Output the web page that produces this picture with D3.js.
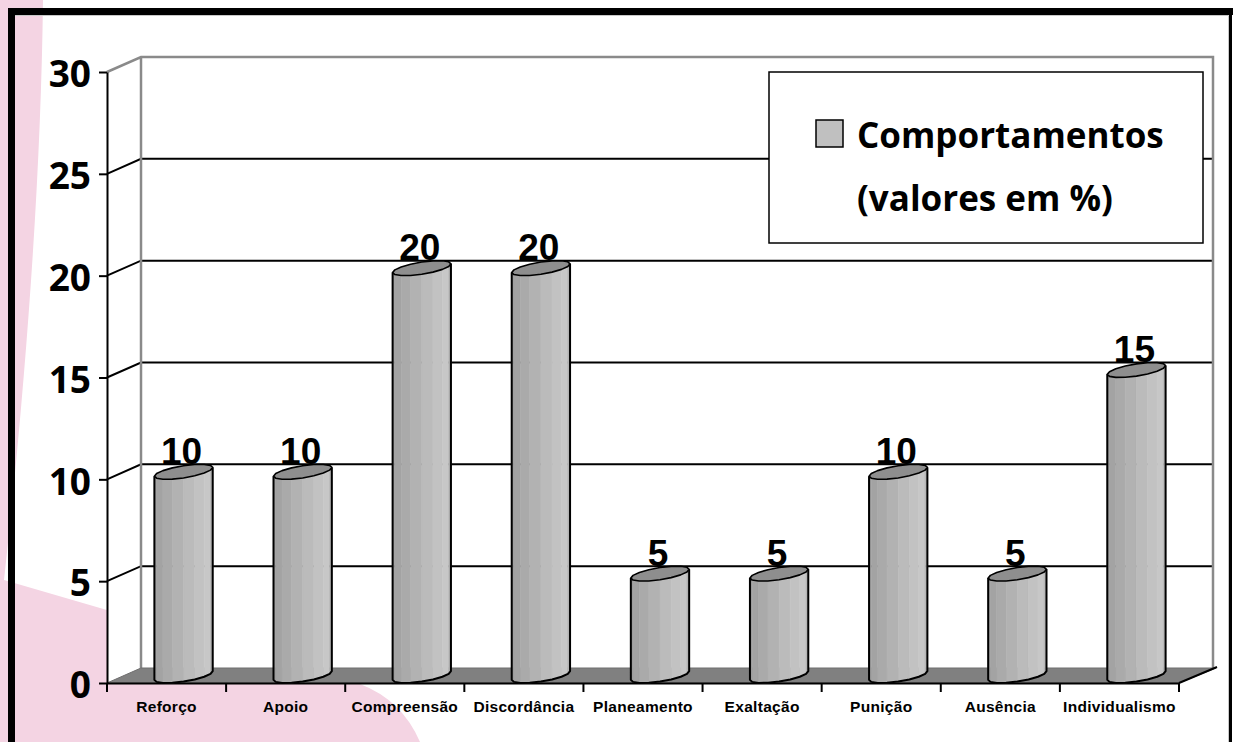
<!DOCTYPE html>
<html>
<head>
<meta charset="utf-8">
<script src="https://cdn.jsdelivr.net/npm/d3@7"></script>
<style>
  html, body { margin: 0; padding: 0; background: #ffffff; }
  svg { display: block; }
</style>
</head>
<body>
<script>
// Category names, values (percent) and value-axis ticks
const categories = ["Reforço", "Apoio", "Compreensão", "Discordância", "Planeamento",
                    "Exaltação", "Punição", "Ausência", "Individualismo"];
const values = [10, 10, 20, 20, 5, 5, 10, 5, 15];
const yTicks = [0, 5, 10, 15, 20, 25, 30];
const legendLines = ["Comportamentos", "(valores em %)"];

const W = 1233, H = 742;
const svg = d3.select("body").append("svg").attr("width", W).attr("height", H);

// Oblique projection of the chart depth (front plane -> back wall)
const depth = { dx: 34, dy: -15 };

const x = d3.scaleBand().domain(categories).range([107, 1179]);
const y = d3.scaleLinear().domain([0, 30]).range([683, 72]);

const x0 = x.range()[0], x1 = x.range()[1];
const yBase = y(0), yTop = y(30);

// ---- pink page decoration ----
svg.append("path")
  .attr("d", "M0,0 L43,0 Q40,250 4,580 L360,684 Q402,700 420,742 L0,742 Z")
  .attr("fill", "#f4d4e3");

// ---- walls ----
const plot = svg.append("g");
plot.append("polygon")
  .attr("points", [[x0, yTop], [x0 + depth.dx, yTop + depth.dy],
                   [x0 + depth.dx, yBase + depth.dy], [x0, yBase]].join(" "))
  .attr("fill", "#ffffff");
plot.append("rect")
  .attr("x", x0 + depth.dx).attr("y", yTop + depth.dy)
  .attr("width", x1 - x0).attr("height", yBase - yTop)
  .attr("fill", "#ffffff");

// gridlines: across the side wall, then along the back wall
const gridPath = v => {
  const yy = y(v);
  return `M${x0},${yy} L${x0 + depth.dx},${yy + depth.dy} L${x1 + depth.dx},${yy + depth.dy}`;
};
plot.selectAll("path.grid")
  .data(yTicks.filter(v => v > 0 && v < 30))
  .join("path")
  .attr("class", "grid")
  .attr("d", gridPath)
  .attr("fill", "none")
  .attr("stroke", "#000")
  .attr("stroke-width", 2);

// outer edges of the walls
plot.append("path")
  .attr("d", `${gridPath(30)} L${x1 + depth.dx},${yBase + depth.dy}
              M${x0 + depth.dx},${yTop + depth.dy} L${x0 + depth.dx},${yBase + depth.dy}`)
  .attr("fill", "none")
  .attr("stroke", "#8a8a8a")
  .attr("stroke-width", 2.5);

// ---- floor ----
plot.append("polygon")
  .attr("points", [[x0, yBase], [x0 + depth.dx, yBase + depth.dy],
                   [x1 + depth.dx + 3, yBase + depth.dy], [x1, yBase]].join(" "))
  .attr("fill", "#808080")
  .attr("stroke", "#6f6f6f")
  .attr("stroke-width", 1);
plot.append("line")
  .attr("x1", x1).attr("y1", yBase)
  .attr("x2", x1 + depth.dx + 4).attr("y2", yBase + depth.dy - 1)
  .attr("stroke", "#000").attr("stroke-width", 2);

// ---- value axis ----
const yAxis = d3.axisLeft(y).tickValues(yTicks).tickSizeInner(8).tickSizeOuter(0).tickPadding(8);
const gy = svg.append("g").attr("transform", `translate(${x0},0)`).call(yAxis);
gy.select(".domain").attr("stroke", "#000").attr("stroke-width", 2);
gy.selectAll(".tick line").attr("stroke", "#000").attr("stroke-width", 2);
gy.selectAll(".tick text")
  .attr("dy", "0.4em")
  .attr("fill", "#000")
  .style("font-family", "'Open Sans', sans-serif")
  .style("font-weight", "700")
  .style("font-size", "37px");

// ---- category axis ----
const xAxis = d3.axisBottom(x).tickSizeInner(0).tickSizeOuter(0).tickPadding(18);
const gx = svg.append("g").attr("transform", `translate(0,${yBase})`).call(xAxis);
gx.select(".domain").attr("stroke", "#000").attr("stroke-width", 2);
gx.selectAll(".tick text")
  .attr("fill", "#000")
  .style("font-family", "'Liberation Sans', Arial, sans-serif")
  .style("font-weight", "700")
  .style("font-size", "15.5px")
  .style("letter-spacing", "0.3px");
// tick marks sit on the category boundaries
const boundaries = categories.map(c => x(c)).concat([x1]);
gx.selectAll("line.bound")
  .data(boundaries)
  .join("line")
  .attr("class", "bound")
  .attr("x1", d => d).attr("x2", d => d)
  .attr("y1", 0).attr("y2", 9)
  .attr("stroke", "#000").attr("stroke-width", 2);

// ---- cylinders ----
const a = 23.7;                 // horizontal radius
const rz = 0.5;                 // depth radius, as a share of the full depth
const p = depth.dx * rz, q = depth.dy * rz;
const phi = Math.atan2(p, a);
const tL = phi + Math.PI;       // left silhouette
const facetColors = ["#9c9c9c", "#a3a3a3", "#aaaaaa", "#b2b2b2",
                     "#bbbbbb", "#c2c2c2", "#c7c7c7", "#b3b3b3"];
const nFront = facetColors.length;

const bars = svg.append("g");
categories.forEach((c, i) => {
  const v = values[i];
  const cx = x(c) + x.bandwidth() / 2 + depth.dx / 2;
  const cyB = y(0) + depth.dy / 2;
  const cyT = y(v) + depth.dy / 2;
  const pt = (t, cy) => [cx + a * Math.cos(t) + p * Math.sin(t), cy + q * Math.sin(t)];
  const g = bars.append("g");

  // front facets
  for (let k = 0; k < nFront; k++) {
    const ta = tL + k * Math.PI / nFront, tb = tL + (k + 1) * Math.PI / nFront;
    g.append("polygon")
      .attr("points", [pt(ta, cyT), pt(tb, cyT), pt(tb, cyB), pt(ta, cyB)].join(" "))
      .attr("fill", facetColors[k])
      .attr("stroke", facetColors[k])
      .attr("stroke-width", 0.6);
  }
  // silhouette: left edge, bottom front arc, right edge
  const outline = [pt(tL, cyT)];
  for (let k = 0; k <= nFront; k++) outline.push(pt(tL + k * Math.PI / nFront, cyB));
  outline.push(pt(tL + Math.PI, cyT));
  g.append("path")
    .attr("d", d3.line()(outline))
    .attr("fill", "none")
    .attr("stroke", "#000")
    .attr("stroke-width", 2)
    .attr("stroke-linejoin", "round");
  // top cap
  const cap = d3.range(2 * nFront).map(k => pt(tL + k * Math.PI / nFront, cyT));
  g.append("polygon")
    .attr("points", cap.join(" "))
    .attr("fill", "#8e8e8e")
    .attr("stroke", "#000")
    .attr("stroke-width", 1.6)
    .attr("stroke-linejoin", "round");

  // value label
  g.append("text")
    .attr("x", cx - 2)
    .attr("y", cyT - 8)
    .attr("text-anchor", "middle")
    .attr("fill", "#000")
    .style("font-family", "'Liberation Sans', Arial, sans-serif")
    .style("font-weight", "700")
    .style("font-size", "37px")
    .text(v);
});

// ---- legend ----
const lg = svg.append("g");
lg.append("rect")
  .attr("x", 769).attr("y", 72).attr("width", 434).attr("height", 171)
  .attr("fill", "#ffffff").attr("stroke", "#000").attr("stroke-width", 1.5);
lg.append("rect")
  .attr("x", 816).attr("y", 120).attr("width", 27).attr("height", 27)
  .attr("fill", "#c0c0c0").attr("stroke", "#000").attr("stroke-width", 1.5);
lg.selectAll("text")
  .data(legendLines)
  .join("text")
  .attr("x", 857)
  .attr("y", (d, i) => 148 + i * 63)
  .attr("fill", "#000")
  .style("font-family", "'Open Sans', sans-serif")
  .style("font-weight", "700")
  .style("font-size", "35px")
  .text(d => d);

// ---- frame ----
const frame = svg.append("g");
frame.append("rect").attr("x", 8).attr("y", 8).attr("width", 7).attr("height", H - 8).attr("fill", "#000");
frame.append("rect").attr("x", 8).attr("y", 8).attr("width", W - 8).attr("height", 7).attr("fill", "#000");
frame.append("rect").attr("x", 1229).attr("y", 8).attr("width", 3).attr("height", H - 8).attr("fill", "#000");
frame.append("path")
  .attr("d", `M15,15.5 L1228.5,15.5 L1228.5,${H}`)
  .attr("fill", "none").attr("stroke", "#c8c8c8").attr("stroke-width", 1);
</script>
</body>
</html>
